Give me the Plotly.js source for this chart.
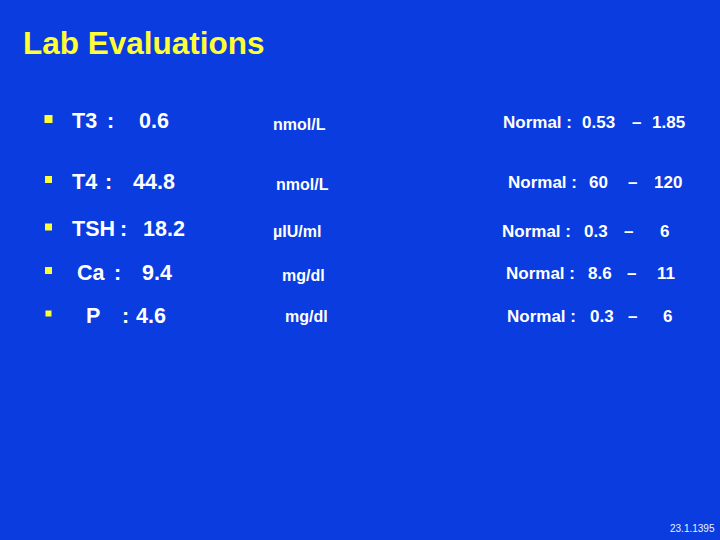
<!DOCTYPE html>
<html><head><meta charset="utf-8">
<script src="https://cdn.plot.ly/plotly-3.0.1.min.js"></script>
<style>html,body{margin:0;padding:0;background:#0A3CE0;}</style>
</head><body><div id="chart" style="width:720px;height:540px;"></div>
<script>
// Data
const tests = ["T3", "T4", "TSH", "Ca", "P"];
const results = ["0.6", "44.8", "18.2", "9.4", "4.6"];
const units = ["nmol/L", "nmol/L", "\u00b5IU/ml", "mg/dl", "mg/dl"];
const normalLow = ["0.53", "60", "0.3", "8.6", "0.3"];
const normalHigh = ["1.85", "120", "6", "11", "6"];
const titleText = "Lab Evaluations";
const dateText = "23.1.1395";

// Layout positions (pixels)
const rowY = [121, 181.5, 229, 272.5, 315.5];
const nameX = [72, 72, 72, 77, 86];
const colonX = [107, 105, 120, 114, 122];
const valueX = [139, 133, 143, 142, 136];
const unitX = [273, 276, 273, 282, 285];
const unitDY = [3, 2.5, 2.5, 2.5, 1];
const normX = [503, 508, 502, 506, 507];
const lowX = [582, 589, 584, 588, 590];
const dashX = [632, 628, 624, 627, 628];
const highX = [652, 654, 660, 657, 663];
const normDY = [1.5, 1, 2, 1, 0.5];
const PADX = 2;

const FONT = "Arial";
const ann = [];
function t(x, y, text, size, color, weight, anchor) {
  ann.push({x: anchor === 'right' ? x + PADX : x - PADX, y: y, xref: 'x', yref: 'y', text: text, showarrow: false,
    xanchor: anchor || 'left', yanchor: 'middle',
    font: {family: FONT, size: size, color: color, weight: weight}});
}
t(23, 42.5, titleText, 31.5, '#FFFF33', 'bold');
tests.forEach((n, i) => {
  const y = rowY[i];
  t(nameX[i], y, n, 21.5, '#FFFFFF', 'bold');
  t(colonX[i], y, ':', 21.5, '#FFFFFF', 'bold');
  t(valueX[i], y, results[i], 21.5, '#FFFFFF', 'bold');
  t(unitX[i], y + unitDY[i], units[i], 16, '#FFFFFF', 'bold');
  const ny = y + normDY[i];
  t(normX[i], ny, 'Normal :', 17, '#FFFFFF', 'bold');
  t(lowX[i], ny, normalLow[i], 17, '#FFFFFF', 'bold');
  t(dashX[i], ny, '\u2013', 17, '#FFFFFF', 'bold');
  t(highX[i], ny, normalHigh[i], 17, '#FFFFFF', 'bold');
});
t(715, 528, dateText, 10, '#E8F4FF', 'normal', 'right');

const bullets = {
  x: rowY.map(() => 48.5), y: rowY.map(y => y - 2),
  mode: 'markers', type: 'scatter', hoverinfo: 'skip',
  marker: {symbol: 'square', size: [8, 7, 7, 7, 6], color: '#FFFF33', opacity: 1, line: {width: 0}}
};

const layout = {
  width: 720, height: 540,
  margin: {l: 0, r: 0, t: 0, b: 0},
  paper_bgcolor: '#0A3CE0', plot_bgcolor: '#0A3CE0',
  xaxis: {range: [0, 720], visible: false, fixedrange: true},
  yaxis: {range: [540, 0], visible: false, fixedrange: true},
  showlegend: false,
  annotations: ann
};
Plotly.newPlot('chart', [bullets], layout, {staticPlot: true, displayModeBar: false});
</script></body></html>
